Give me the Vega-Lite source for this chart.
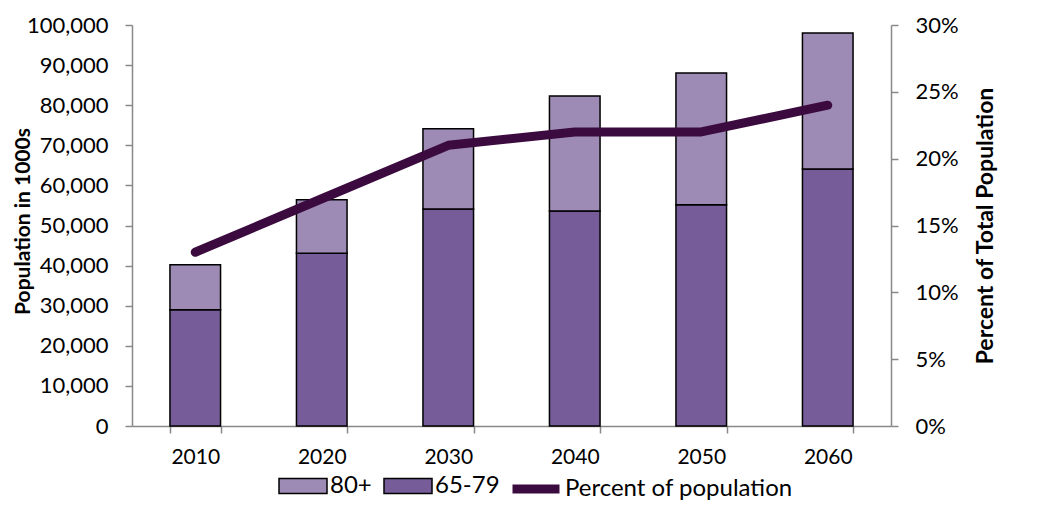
{
  "$schema": "https://vega.github.io/schema/vega-lite/v6.json",
  "width": 759,
  "height": 401,
  "autosize": {"type": "none"},
  "padding": {"left": 132, "top": 25, "right": 159, "bottom": 96},
  "background": "white",
  "config": {
    "view": {"stroke": null},
    "font": "Lato",
    "axis": {
      "domainColor": "#898989",
      "domainWidth": 1.5,
      "tickColor": "#898989",
      "tickWidth": 1.5,
      "tickSize": 7,
      "labelFontSize": 22,
      "labelColor": "#000000",
      "labelFont": "Lato",
      "titleFont": "Lato",
      "titleFontSize": 22,
      "titleFontWeight": "bold",
      "titleColor": "#000000",
      "grid": false
    },
    "legend": {
      "labelFont": "Lato",
      "labelFontSize": 24,
      "labelColor": "#000000",
      "labelLimit": 0
    }
  },
  "datasets": {
    "pop": [
      {"year": 2010, "group": "65-79", "value": 29000},
      {"year": 2010, "group": "80+", "value": 11200},
      {"year": 2020, "group": "65-79", "value": 43100},
      {"year": 2020, "group": "80+", "value": 13300},
      {"year": 2030, "group": "65-79", "value": 54100},
      {"year": 2030, "group": "80+", "value": 20000},
      {"year": 2040, "group": "65-79", "value": 53600},
      {"year": 2040, "group": "80+", "value": 28700},
      {"year": 2050, "group": "65-79", "value": 55200},
      {"year": 2050, "group": "80+", "value": 32800},
      {"year": 2060, "group": "65-79", "value": 64100},
      {"year": 2060, "group": "80+", "value": 33900}
    ],
    "pct": [
      {"year": 2010, "percent": 0.13},
      {"year": 2020, "percent": 0.17},
      {"year": 2030, "percent": 0.21},
      {"year": 2040, "percent": 0.22},
      {"year": 2050, "percent": 0.22},
      {"year": 2060, "percent": 0.24}
    ]
  },
  "layer": [
    {
      "data": {"name": "pop"},
      "mark": {"type": "bar", "stroke": "#000000", "strokeWidth": 1.5},
      "encoding": {
        "x": {
          "field": "year",
          "type": "ordinal",
          "scale": {"paddingInner": 0.6, "paddingOuter": 0.3},
          "axis": {"title": null, "labelAngle": 0, "tickBand": "extent", "labelPadding": 13, "labelFontSize": 21}
        },
        "y": {
          "field": "value",
          "type": "quantitative",
          "stack": "zero",
          "scale": {"domain": [0, 100000]},
          "axis": {
            "title": "Population in 1000s",
            "tickCount": 10,
            "format": ",.0f",
            "labelPadding": 17,
            "titlePadding": -7,
            "titleFontSize": 21,
            "titleY": 196
          }
        },
        "fill": {
          "field": "group",
          "type": "nominal",
          "scale": {"domain": ["80+", "65-79"], "range": ["#9e8bb5", "#765d99"]},
          "legend": {
            "title": null,
            "orient": "none",
            "direction": "horizontal",
            "legendX": 146,
            "legendY": 436,
            "symbolType": "M-1,-0.31H1V0.31H-1Z",
            "symbolSize": 2304,
            "symbolStrokeColor": "#000000",
            "symbolStrokeWidth": 1.5,
            "symbolOpacity": 1,
            "labelOffset": 2,
            "columnPadding": 9
          }
        },
        "order": {"field": "group", "sort": "ascending"}
      }
    },
    {
      "data": {"name": "pct"},
      "mark": {"type": "line", "strokeWidth": 9, "strokeCap": "round", "strokeJoin": "round", "color": "#3b0a3f"},
      "encoding": {
        "x": {"field": "year", "type": "ordinal"},
        "y": {
          "field": "percent",
          "type": "quantitative",
          "scale": {"domain": [0, 0.3]},
          "axis": {
            "orient": "right",
            "format": ".0%",
            "title": "Percent of Total Population",
            "titleAngle": 270,
            "tickCount": 6,
            "labelPadding": 17,
            "titlePadding": 39,
            "titleFontSize": 23
          }
        },
        "stroke": {
          "datum": "Percent of population",
          "scale": {"range": ["#3b0a3f"]},
          "legend": {
            "title": null,
            "orient": "none",
            "legendX": 376,
            "legendY": 436,
            "symbolType": "stroke",
            "symbolSize": 2209,
            "symbolStrokeWidth": 9,
            "labelOffset": 1
          }
        }
      }
    }
  ],
  "resolve": {"scale": {"y": "independent", "fill": "independent", "stroke": "independent"}}
}
